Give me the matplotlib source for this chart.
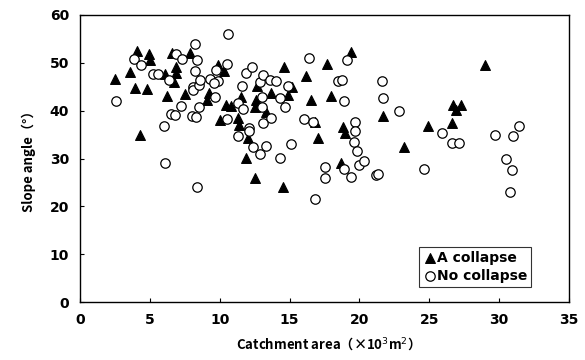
import matplotlib
matplotlib.use("Agg")
import matplotlib.pyplot as plt

# A collapse (triangles)
col_x = [2.5, 3.6, 4.05, 3.95, 4.8, 4.3, 4.93, 5.0, 6.1, 6.2, 6.6, 6.7, 6.9, 6.9, 7.5, 7.9,
         9.07, 9.2, 9.9, 10.0, 10.3, 10.45, 10.8, 11.3, 11.4, 11.5, 12.0, 11.9, 12.5, 12.5,
         12.6, 12.7, 13.3, 13.7, 14.6, 14.5, 14.9, 15.2, 16.2, 16.5, 16.8, 17.0, 17.7, 18.0,
         18.7, 18.8, 19.0, 19.4, 21.7, 23.2, 24.9, 26.6, 26.7, 26.9, 27.3, 29.0]
col_y = [46.6, 48.1, 52.5, 44.7, 44.5, 34.9, 51.8, 50.6, 47.7, 43.1, 52.1, 45.9, 49.2, 47.9, 43.4, 52.1,
         42.2, 43.6, 49.5, 38.1, 48.2, 41.2, 41.0, 38.4, 37.0, 42.9, 34.2, 30.1, 25.9, 40.8,
         42.2, 45.2, 39.8, 43.6, 49.2, 24.1, 43.3, 45.0, 47.3, 42.2, 37.7, 34.2, 49.7, 43.1,
         29.0, 36.5, 35.3, 52.3, 38.8, 32.5, 36.7, 37.4, 41.2, 40.2, 41.2, 49.5]

# No collapse (open circles)
nc_x = [2.6, 3.9, 4.4, 5.2, 5.6, 6.0, 6.1, 6.4, 6.5, 6.8, 6.9, 7.2, 7.3, 8.2, 8.2, 8.1, 8.1,
        8.0, 8.3, 8.35, 8.4, 8.5, 8.5, 8.6, 9.3, 9.7, 9.65, 9.9, 9.6, 10.5, 10.5, 10.6, 11.3,
        11.3, 11.6, 11.65, 11.9, 12.1, 12.1, 12.3, 12.4, 12.85, 12.9, 13.0, 13.0, 13.1, 13.1,
        13.3, 13.6, 13.7, 14.0, 14.3, 14.3, 14.7, 14.9, 15.1, 16.05, 16.4, 16.7, 16.8, 17.5,
        17.5, 18.5, 18.75, 18.9, 18.9, 19.1, 19.4, 19.6, 19.7, 19.7, 19.8, 20.0, 20.3, 21.2,
        21.3, 21.6, 21.7, 22.8, 24.6, 25.9, 26.6, 27.1, 29.7, 30.5, 30.75, 30.9, 31.0, 31.4]
nc_y = [42.0, 50.9, 49.5, 47.7, 47.7, 36.8, 29.0, 46.4, 39.3, 39.0, 51.8, 41.0, 50.9, 53.9, 48.2, 45.0, 44.3,
        38.8, 38.6, 24.1, 50.5, 40.7, 45.4, 46.4, 46.6, 48.6, 42.9, 46.1, 45.7, 49.7, 38.2, 56.0, 34.6,
        41.7, 45.2, 40.3, 47.9, 36.3, 35.8, 49.2, 32.5, 31.0, 45.9, 42.8, 40.7, 37.5, 47.5,
        32.7, 46.4, 38.4, 46.2, 42.7, 30.1, 40.7, 45.2, 33.1, 38.2, 51.1, 37.6, 21.5, 28.3,
        25.9, 46.2, 46.4, 27.8, 42.1, 50.6, 26.2, 33.5, 37.7, 35.8, 31.5, 28.7, 29.4, 26.6,
        26.8, 46.1, 42.6, 39.9, 27.8, 35.3, 33.2, 33.2, 34.9, 29.9, 23.0, 27.6, 34.6, 36.8]

x_ticks = [0, 5, 10, 15, 20, 25, 30, 35]
y_ticks = [0, 10, 20, 30, 40, 50, 60]

fig = plt.figure(figsize=(5.85, 3.6), dpi=100)
ax = fig.add_axes([80/585, 1-302/360, 489/585, 287/360])

ax.scatter(col_x, col_y, marker='^', s=50, facecolor='black', edgecolor='black',
           linewidths=0.8, label='A collapse', zorder=3)
ax.scatter(nc_x, nc_y, marker='o', s=46, facecolor='white', edgecolor='black',
           linewidths=0.9, label='No collapse', zorder=3)

ax.set_xlim(0, 35)
ax.set_ylim(0, 60)
ax.set_xticks(x_ticks)
ax.set_yticks(y_ticks)
ax.tick_params(direction='in', length=3, width=0.8, labelsize=10, pad=8)
for lab in ax.get_xticklabels() + ax.get_yticklabels():
    lab.set_fontweight('bold')
for sp in ax.spines.values():
    sp.set_linewidth(1.0)

cjk = ['Noto Sans CJK JP', 'DejaVu Sans']
ax.set_xlabel('Catchment area（×10$^3$m$^2$）', family=cjk, fontsize=9.5,
              fontweight='bold', labelpad=6)
ax.set_ylabel('Slope angle（°）', family=cjk, fontsize=9.5, fontweight='bold', labelpad=10)

leg = ax.legend(loc='lower right', bbox_to_anchor=(0.937, 0.028), frameon=True, fancybox=False,
                edgecolor='black', handletextpad=0.0, handlelength=1.0, borderpad=0.3,
                labelspacing=0.3, prop={'weight': 'bold', 'size': 10})
leg.get_frame().set_linewidth(0.8)

fig.savefig('out.png', dpi=100)
